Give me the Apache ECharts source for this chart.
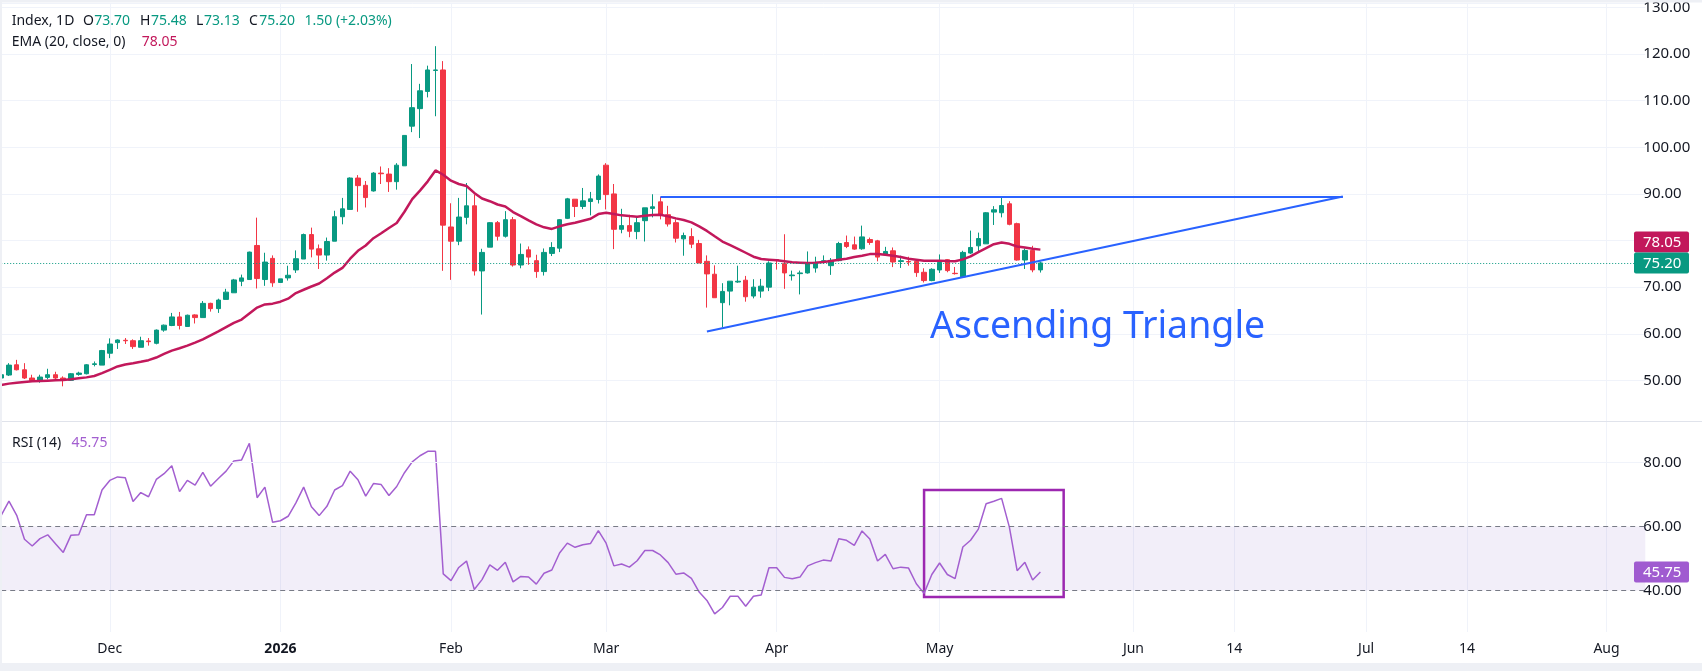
<!DOCTYPE html>
<html lang="en">
<head>
<meta charset="UTF-8">
<title>Index, 1D</title>
<script src="https://cdn.jsdelivr.net/npm/echarts@6/dist/echarts.min.js"></script>
<style>
    html, body { margin: 0; padding: 0; background: #ffffff; }
    #main { width: 1702px; height: 671px; }
</style>
</head>
<body>
<div id="main"></div>
<script type="text/javascript">
    // daily candles, [open, high, low, close]
    var candles = [
        [50.50, 51.42, 50.29, 51.21], [51.14, 53.69, 50.93, 53.27], [53.34, 54.40, 52.13, 52.27], [52.27, 53.69, 50.29, 50.50],
        [50.50, 51.21, 49.79, 49.93], [50.00, 51.21, 49.50, 50.71], [50.64, 52.49, 50.22, 51.21], [51.21, 51.85, 50.22, 50.50],
        [50.50, 50.86, 48.72, 50.00], [50.00, 51.56, 49.86, 51.42], [51.28, 51.85, 51.00, 51.56], [51.42, 53.48, 51.28, 53.34],
        [53.41, 54.05, 53.00, 53.55], [53.27, 56.53, 53.27, 56.39], [55.82, 59.01, 54.76, 57.80], [58.10, 58.80, 56.74, 58.66],
        [58.60, 59.08, 57.80, 58.50], [58.51, 58.80, 56.74, 57.24], [57.10, 59.36, 57.10, 58.51], [58.45, 59.08, 57.45, 58.30],
        [57.95, 60.92, 57.73, 60.78], [60.78, 61.98, 60.43, 61.84], [61.77, 64.47, 61.63, 63.61], [63.61, 64.68, 60.92, 61.77],
        [61.56, 64.11, 61.49, 63.97], [64.04, 64.18, 62.20, 63.47], [63.47, 67.02, 63.47, 66.52], [66.52, 66.66, 64.75, 65.39],
        [65.39, 67.52, 64.47, 67.23], [67.37, 69.64, 67.37, 68.93], [68.79, 71.77, 68.79, 71.55], [71.27, 72.69, 70.21, 71.98],
        [71.63, 77.62, 71.63, 77.52], [78.94, 84.91, 69.71, 71.84], [71.63, 77.38, 70.28, 75.38], [76.17, 76.81, 70.07, 70.93],
        [71.00, 71.78, 71.00, 71.78], [71.98, 74.60, 71.41, 72.55], [73.69, 77.88, 73.05, 76.10], [76.03, 81.49, 76.03, 81.28],
        [81.28, 82.77, 76.39, 78.16], [78.23, 79.15, 73.90, 76.88], [76.88, 80.64, 75.68, 79.79], [79.86, 86.39, 79.86, 85.11],
        [85.11, 89.15, 83.48, 86.81], [86.67, 93.55, 86.67, 93.41], [93.41, 94.04, 86.17, 91.78], [91.85, 92.77, 87.09, 89.22],
        [90.64, 94.68, 90.50, 94.47], [94.47, 95.89, 92.13, 94.33], [94.26, 95.53, 90.43, 92.63], [92.63, 96.60, 90.92, 96.17],
        [96.03, 102.55, 96.03, 102.55], [104.54, 117.87, 103.26, 108.51], [108.30, 113.62, 101.99, 112.13], [111.99, 117.52, 110.71, 116.60],
        [116.50, 121.70, 106.67, 116.60], [116.60, 118.50, 73.50, 83.30], [82.91, 88.00, 71.56, 79.86], [79.86, 89.15, 79.00, 85.04],
        [84.97, 92.34, 83.48, 87.45], [87.45, 89.86, 72.49, 73.48], [73.48, 78.23, 64.12, 77.45], [78.58, 83.97, 78.58, 83.83],
        [83.83, 84.19, 80.00, 80.92], [80.92, 86.31, 80.64, 84.47], [84.47, 85.04, 74.40, 74.75], [74.75, 79.36, 74.05, 77.02],
        [78.00, 78.73, 74.80, 76.45], [75.68, 76.95, 72.00, 73.34], [73.34, 78.30, 72.49, 77.45], [77.24, 79.65, 76.67, 78.51],
        [78.37, 84.61, 77.52, 84.47], [84.76, 89.15, 84.61, 88.94], [88.87, 88.87, 85.04, 87.31], [87.31, 91.28, 86.74, 88.51],
        [88.37, 90.43, 85.40, 88.94], [88.80, 94.19, 87.95, 93.83], [96.17, 96.60, 86.67, 89.86], [90.00, 92.13, 78.16, 82.41],
        [82.41, 86.81, 81.56, 83.20], [83.20, 85.54, 80.71, 81.99], [81.92, 85.04, 80.28, 83.83], [84.26, 87.02, 79.79, 87.02],
        [86.90, 89.93, 84.97, 87.24], [88.30, 89.36, 84.54, 85.47], [85.54, 87.45, 83.00, 83.55], [83.83, 84.54, 79.58, 80.50],
        [80.36, 81.70, 76.74, 81.07], [80.85, 82.63, 78.37, 79.22], [79.36, 80.14, 75.18, 75.18], [75.54, 76.81, 65.61, 72.84],
        [72.77, 74.68, 67.73, 67.73], [66.67, 70.85, 61.35, 69.08], [69.15, 71.28, 66.10, 71.28], [71.10, 74.61, 70.93, 71.27],
        [71.49, 72.41, 66.88, 67.94], [68.09, 71.70, 67.59, 70.00], [69.15, 71.77, 67.73, 70.21], [70.00, 75.54, 69.15, 75.18],
        [75.90, 76.03, 73.76, 75.80], [75.04, 81.35, 69.64, 73.05], [72.45, 73.55, 71.41, 72.60], [72.90, 73.55, 68.44, 73.05],
        [73.05, 77.66, 72.90, 74.97], [74.10, 76.53, 73.12, 75.32], [75.32, 76.81, 75.04, 75.68], [74.61, 76.24, 72.63, 75.75],
        [75.68, 79.72, 75.54, 79.36], [79.58, 81.07, 78.37, 78.73], [79.08, 80.85, 78.02, 78.16], [78.23, 83.20, 78.02, 80.78],
        [80.21, 80.64, 79.08, 79.58], [79.93, 80.14, 75.54, 76.45], [76.95, 78.65, 76.74, 77.66], [77.80, 78.51, 74.30, 75.40],
        [75.50, 76.74, 74.12, 75.68], [75.50, 76.53, 74.61, 75.40], [75.54, 76.03, 72.20, 73.12], [73.19, 74.05, 71.00, 71.41],
        [71.41, 74.05, 71.27, 73.83], [73.69, 77.02, 73.05, 75.32], [75.89, 76.03, 73.19, 73.55], [72.97, 74.33, 72.70, 72.90],
        [72.20, 77.80, 72.20, 77.45], [77.31, 82.13, 77.10, 78.51], [78.87, 81.70, 77.52, 80.43], [79.29, 86.10, 79.29, 85.96],
        [86.10, 87.38, 83.34, 86.60], [85.96, 89.44, 84.97, 87.52], [87.88, 88.44, 83.27, 83.48], [83.62, 83.83, 75.68, 75.82],
        [75.82, 78.30, 73.90, 77.88], [77.88, 78.87, 73.19, 73.70], [73.70, 75.48, 73.13, 75.20]
    ];

    // EMA (20, close)
    var ema20 = [
        49.01, 49.30, 49.51, 49.65, 49.79, 49.86, 49.93, 50.00, 50.07, 50.22, 50.43, 50.64, 50.93, 51.56, 52.27, 52.98,
        53.41, 53.69, 53.98, 54.33, 54.90, 55.68, 56.39, 56.88, 57.45, 58.09, 58.80, 59.65, 60.50, 61.42, 62.34, 63.05,
        64.33, 65.61, 66.30, 66.46, 66.88, 67.52, 68.73, 69.44, 70.14, 70.78, 71.92, 73.12, 74.12, 76.10, 77.80, 78.94,
        80.50, 81.56, 82.70, 83.76, 86.17, 88.87, 90.71, 92.70, 95.04, 94.12, 92.84, 92.13, 91.71, 90.22, 89.01, 88.44,
        87.73, 87.31, 86.10, 85.25, 84.33, 83.48, 82.84, 82.49, 83.05, 83.48, 83.83, 84.26, 84.68, 85.68, 85.96, 85.68,
        85.40, 85.25, 85.11, 85.32, 85.47, 85.54, 85.18, 84.75, 84.40, 83.90, 83.05, 82.06, 80.92, 79.79, 79.01, 78.23,
        77.38, 76.53, 76.03, 75.89, 75.75, 75.54, 75.32, 75.25, 75.18, 75.25, 75.39, 75.60, 75.89, 76.10, 76.45, 76.74,
        77.09, 77.09, 76.95, 76.74, 76.45, 76.10, 75.89, 75.68, 75.68, 75.68, 75.60, 75.54, 75.96, 76.60, 77.52, 78.37,
        79.22, 79.58, 79.29, 78.73, 78.51, 78.23, 78.05
    ];

    // RSI (14)
    var rsi14 = [
        63.5, 67.9, 63.5, 56.0, 53.9, 56.2, 57.4, 54.6, 51.9, 57.3, 57.4, 63.7, 63.7, 71.4, 74.4, 75.5,
        75.2, 67.8, 70.6, 69.3, 74.7, 76.5, 79.0, 70.9, 74.4, 72.9, 76.9, 72.6, 75.0, 77.3, 80.5, 80.8,
        86.0, 69.0, 72.3, 61.3, 61.8, 63.2, 67.4, 72.3, 66.2, 63.4, 66.3, 71.4, 72.8, 77.3, 74.6, 69.5,
        73.4, 73.1, 69.7, 72.5, 76.8, 80.2, 82.1, 83.5, 83.5, 45.2, 43.1, 47.2, 49.2, 40.3, 43.4, 48.0,
        46.3, 48.8, 42.7, 44.4, 44.2, 42.0, 45.4, 46.4, 51.7, 54.8, 53.5, 54.3, 54.7, 58.7, 54.8, 47.7,
        48.3, 47.3, 49.3, 52.5, 52.5, 51.1, 48.7, 45.1, 45.5, 43.8, 39.5, 36.9, 32.7, 34.7, 38.2, 38.2,
        35.1, 38.2, 38.6, 47.1, 47.1, 44.1, 43.7, 44.2, 47.7, 48.7, 49.5, 49.2, 56.2, 55.7, 54.1, 58.6,
        56.1, 49.2, 51.3, 46.8, 47.3, 47.0, 42.1, 39.1, 45.0, 48.6, 45.0, 43.7, 53.6, 55.7, 59.2, 67.1,
        67.9, 68.8, 59.8, 46.2, 48.8, 43.3, 45.75
    ];

    // empty days to the right of the last candle
    var futureBars = 78;

    // bar index -> time axis label
    var timeTicks = [[14, 'Dec'], [36, '2026'], [58, 'Feb'], [78, 'Mar'], [100, 'Apr'], [121, 'May'],
        [146, 'Jun'], [159, '14'], [176, 'Jul'], [189, '14'], [207, 'Aug']];

    // visible value range of each pane
    var priceRange = [41.28, 130.85];
    var rsiRange = [27.03, 92.81];
    var rsiLevels = [40, 60, 80];

    // drawn pattern: [bar index, price]
    var resistanceLine = [[85, 89.43], [173, 89.43]];
    var supportLine = [[91, 60.5], [173, 89.43]];
    // box on RSI: [bar index, rsi]
    var rsiBox = [[119, 71.4], [137, 38.0]];

    var UP = '#089981', DOWN = '#f23645', EMA_C = '#c2185b', RSI_C = '#a35fd0';
    var GRID = '#f0f3fa', TEXT = '#131722', BLUE = '#2962ff';
    var FONT = '"Noto Sans", sans-serif';

    var categories = [];
    for (var i = 0; i < candles.length + futureBars; i++) categories.push(String(i));
    var tickMap = {};
    timeTicks.forEach(function (t) { tickMap[t[0]] = t[1]; });
    function isTick(idx) { return tickMap[idx] !== undefined; }

    var last = candles[candles.length - 1];
    var prevClose = candles[candles.length - 2][3];
    var change = last[3] - prevClose;
    var changePct = Math.floor(change / prevClose * 10000) / 100;

    var myChart = echarts.init(document.getElementById('main'));

    var option = {
        animation: false,
        backgroundColor: '#ffffff',
        textStyle: {fontFamily: FONT},
        grid: [
            {left: 1.2, right: 56.7, top: 0, height: 421},
            {left: 1.2, right: 56.7, top: 421.5, height: 210.5}
        ],
        xAxis: [
            {
                type: 'category', gridIndex: 0, data: categories, boundaryGap: false,
                axisLine: {show: false}, axisTick: {show: false}, axisLabel: {show: false},
                splitLine: {show: true, interval: function (i) { return isTick(i); }, lineStyle: {color: GRID}}
            },
            {
                type: 'category', gridIndex: 1, data: categories, boundaryGap: false,
                axisLine: {show: false}, axisTick: {show: false},
                axisLabel: {
                    interval: function (i) { return isTick(i); },
                    formatter: function (v, i) {
                        var t = tickMap[i];
                        if (t === undefined) return '';
                        return t === '2026' ? '{b|2026}' : t;
                    },
                    color: TEXT, fontSize: 14, fontFamily: FONT, margin: 10,
                    rich: {b: {fontWeight: 'bold', fontSize: 14, color: TEXT, fontFamily: FONT}}
                },
                splitLine: {show: true, interval: function (i) { return isTick(i); }, lineStyle: {color: GRID}}
            }
        ],
        yAxis: [
            {
                type: 'value', gridIndex: 0, position: 'right', min: priceRange[0], max: priceRange[1], splitNumber: 9,
                axisLine: {show: false}, axisTick: {show: false},
                axisLabel: {
                    showMinLabel: false, showMaxLabel: false, color: TEXT, fontSize: 15, fontFamily: FONT, margin: -2,
                    formatter: function (v) { return v.toFixed(2); }
                },
                splitLine: {show: true, lineStyle: {color: GRID}}
            },
            {
                type: 'value', gridIndex: 1, position: 'right', min: rsiRange[0], max: rsiRange[1], splitNumber: 3,
                axisLine: {show: false}, axisTick: {show: false},
                axisLabel: {
                    showMinLabel: false, showMaxLabel: false, color: TEXT, fontSize: 15, fontFamily: FONT, margin: -2,
                    formatter: function (v) { return v.toFixed(2); }
                },
                splitLine: {show: false}
            }
        ],
        series: [
            {
                name: 'Index',
                type: 'candlestick',
                xAxisIndex: 0, yAxisIndex: 0,
                barWidth: 5,
                data: candles.map(function (c) { return [c[0], c[3], c[2], c[1]]; }),
                itemStyle: {color: UP, color0: DOWN, borderColor: UP, borderColor0: DOWN, borderWidth: 1},
                markLine: {
                    silent: true, symbol: ['none', 'none'], label: {show: false},
                    data: [
                        {yAxis: last[3], lineStyle: {color: UP, type: [1, 2], width: 1}},
                        [
                            {coord: [String(resistanceLine[0][0]), resistanceLine[0][1]], lineStyle: {color: BLUE, type: 'solid', width: 2}},
                            {coord: [String(resistanceLine[1][0]), resistanceLine[1][1]]}
                        ],
                        [
                            {coord: [String(supportLine[0][0]), supportLine[0][1]], lineStyle: {color: BLUE, type: 'solid', width: 2}},
                            {coord: [String(supportLine[1][0]), supportLine[1][1]]}
                        ]
                    ]
                }
            },
            {
                name: 'EMA',
                type: 'line',
                xAxisIndex: 0, yAxisIndex: 0,
                data: ema20,
                symbol: 'none',
                z: 3,
                lineStyle: {color: EMA_C, width: 2.5}
            },
            {
                name: 'RSI',
                type: 'line',
                xAxisIndex: 1, yAxisIndex: 1,
                data: rsi14,
                symbol: 'none',
                z: 3,
                lineStyle: {color: RSI_C, width: 1.5},
                markArea: {
                    silent: true,
                    data: [
                        [{yAxis: rsiLevels[0], itemStyle: {color: 'rgba(126,87,194,0.1)'}}, {yAxis: rsiLevels[1]}],
                        [
                            {coord: [String(rsiBox[0][0]), rsiBox[0][1]], itemStyle: {color: 'rgba(0,0,0,0)', borderColor: '#9c27b0', borderWidth: 2.5}},
                            {coord: [String(rsiBox[1][0]), rsiBox[1][1]]}
                        ]
                    ]
                },
                markLine: {
                    silent: true, symbol: ['none', 'none'], label: {show: false},
                    data: [
                        {yAxis: rsiLevels[2], lineStyle: {color: GRID, type: 'solid', width: 1}},
                        {yAxis: rsiLevels[1], lineStyle: {color: '#787b86', type: [5, 4], width: 1}},
                        {yAxis: rsiLevels[0], lineStyle: {color: '#787b86', type: [5, 4], width: 1}}
                    ]
                }
            }
        ]
    };
    myChart.setOption(option);

    /****************************************/
    // text overlay, price tags and frame
    function txt(x, y, s, color, size, weight) {
        return {
            type: 'text', z: 50, silent: true,
            style: {
                x: x, y: y, text: s, fill: color,
                font: (weight || 'normal') + ' ' + size + 'px ' + FONT,
                textAlign: 'left', textVerticalAlign: 'middle', verticalAlign: 'middle'
            }
        };
    }
    function tag(y, s, color) {
        return [
            {type: 'rect', z: 60, silent: true, shape: {x: 1634, y: y - 10.5, width: 55, height: 21, r: 2}, style: {fill: color}},
            txt(1643, y + 0.5, s, '#ffffff', 15)
        ].map(function (g) { g.z = g.type === 'rect' ? 60 : 61; return g; });
    }

    var yClose = myChart.convertToPixel({yAxisIndex: 0}, last[3]);
    var yEma = myChart.convertToPixel({yAxisIndex: 0}, ema20[ema20.length - 1]);
    var yRsi = myChart.convertToPixel({yAxisIndex: 1}, rsi14[rsi14.length - 1]);
    if (yClose - yEma < 21) yEma = yClose - 21;

    var graphics = [
        {type: 'rect', z: 40, silent: true, shape: {x: 0, y: 421, width: 1702, height: 1}, style: {fill: '#e0e3eb'}},
        {type: 'rect', z: 70, silent: true, shape: {x: 0, y: 0, width: 1702, height: 2.5}, style: {fill: '#eef0f5'}},
        {type: 'rect', z: 70, silent: true, shape: {x: 0, y: 0, width: 2, height: 671}, style: {fill: '#eef0f5'}},
        {type: 'rect', z: 70, silent: true, shape: {x: 0, y: 663, width: 1702, height: 8}, style: {fill: '#eef0f5'}},

        txt(11.7, 21.5, 'Index, 1D', TEXT, 14),
        txt(83, 21.5, 'O', TEXT, 14), txt(94.3, 21.5, last[0].toFixed(2), UP, 14),
        txt(140, 21.5, 'H', TEXT, 14), txt(151, 21.5, last[1].toFixed(2), UP, 14),
        txt(196, 21.5, 'L', TEXT, 14), txt(204, 21.5, last[2].toFixed(2), UP, 14),
        txt(249, 21.5, 'C', TEXT, 14), txt(259.3, 21.5, last[3].toFixed(2), UP, 14),
        txt(304.5, 21.5, change.toFixed(2) + ' (+' + changePct.toFixed(2) + '%)', UP, 14),
        txt(11.7, 42, 'EMA (20, close, 0)', TEXT, 14),
        txt(141.7, 42, ema20[ema20.length - 1].toFixed(2), EMA_C, 14),
        txt(12, 443.5, 'RSI (14)', TEXT, 14),
        txt(71.6, 443.5, rsi14[rsi14.length - 1].toFixed(2), RSI_C, 14),

        txt(930, 327, 'Ascending Triangle', BLUE, 37.5)
    ];
    graphics = graphics.concat(tag(yEma, ema20[ema20.length - 1].toFixed(2), EMA_C));
    graphics = graphics.concat(tag(yClose, last[3].toFixed(2), UP));
    graphics = graphics.concat(tag(yRsi, rsi14[rsi14.length - 1].toFixed(2), '#a05bd0'));

    myChart.setOption({graphic: {elements: graphics}});
</script>
</body>
</html>
